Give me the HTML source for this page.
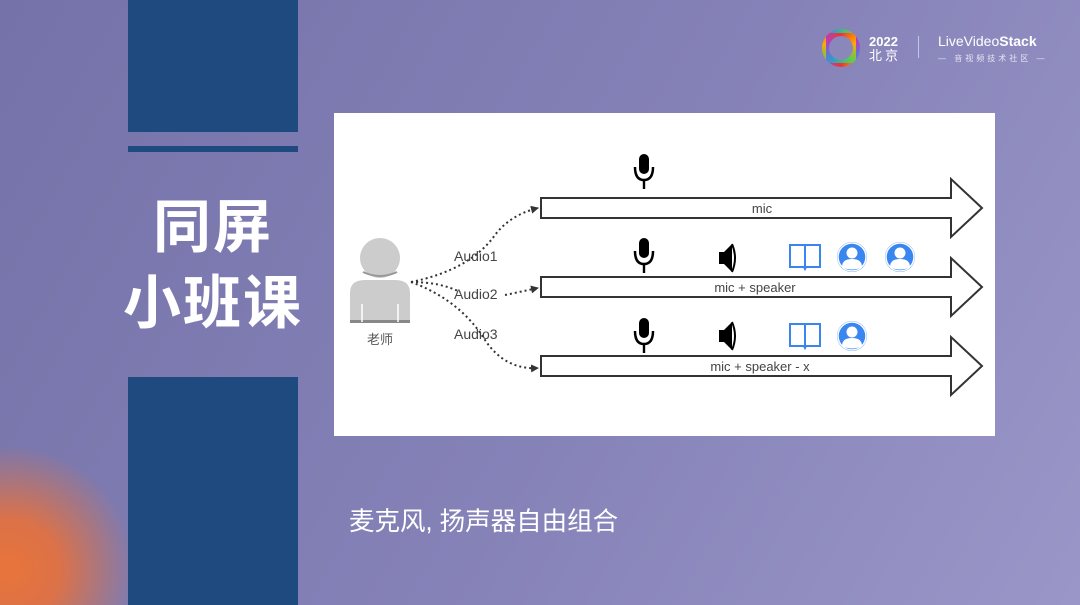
<!DOCTYPE html>
<html style="margin:0;width:1080px;height:605px;overflow:hidden;background:#7e7bb2"><head><meta charset="utf-8"><style>
body{margin:0;width:1080px;height:605px;overflow:hidden;position:relative;font-family:"Liberation Sans","Noto Sans CJK SC",sans-serif;
background:linear-gradient(120deg,#7472a8 0%,#8582b8 55%,#9a96c8 100%);}
.b{position:absolute;background:#1f4a7f;left:128px;width:170px}
.glow{position:absolute;left:0;top:425px;width:140px;height:180px;background:radial-gradient(circle at 10px 145px,#e8743a 0px,#dc7248 50px,rgba(160,110,160,0) 125px)}
</style></head><body>
<div class="glow"></div>
<div class="b" style="top:0;height:132px"></div>
<div class="b" style="top:146px;height:6px"></div>
<div class="b" style="top:377px;height:228px"></div>
<div style="position:absolute;left:118px;top:190px;width:190px;text-align:center;color:#fff;font-weight:bold;font-size:58px;line-height:76px;letter-spacing:2px">同屏<br>小班课</div>
<div style="position:absolute;left:349px;top:505px;color:#fff;font-size:25.5px;line-height:34px">麦克风, 扬声器自由组合</div>
<div style="position:absolute;left:822px;top:29px;width:30px;height:30px;border-radius:50%;border:4px solid transparent;background:conic-gradient(#e33,#fa0,#5c5,#39c,#a4c,#e33);"></div>
<div style="position:absolute;left:829px;top:36px;width:24px;height:24px;border-radius:50%;background:#8a87bb"></div>
<div style="position:absolute;left:869px;top:35px;color:#fff;font-size:13px;font-weight:bold;line-height:14px">2022<br><span style="font-weight:normal;letter-spacing:3px">北京</span></div>
<div style="position:absolute;left:918px;top:36px;width:1px;height:22px;background:#c8c6e4"></div>
<div style="position:absolute;left:938px;top:34px;color:#fff;font-size:14px;line-height:15px">LiveVideo<b>Stack</b><br><span style="font-size:8px;letter-spacing:3px;color:#e6e4f4">— 音视频技术社区 —</span></div>
<svg style="position:absolute;left:0;top:0;display:block" width="1080" height="605">
<defs><marker id="ah" markerWidth="8" markerHeight="8" refX="7" refY="4" orient="auto" markerUnits="userSpaceOnUse"><path d="M0,0 L8,4 L0,8 z" fill="#333"/></marker>
<g id="mic"><rect x="-5" y="0" width="10" height="20" rx="5" fill="#000"/><path d="M-9,13 Q-9,26 0,26 Q9,26 9,13" fill="none" stroke="#000" stroke-width="2.5"/><rect x="-1.2" y="26" width="2.4" height="9" fill="#000"/></g>
<g id="spk"><path d="M-8,-6 L-3,-6 L5,-14 L5,14 L-3,6 L-8,6 z" fill="#000"/><path d="M5,-14 Q11,0 5,14" fill="none" stroke="#000" stroke-width="2"/></g>
<g id="book"><path d="M-15,-11 L15,-11 L15,11 L1,11 L0,13 L-1,11 L-15,11 z M0,-11 L0,11" fill="none" stroke="#3a86f0" stroke-width="2"/></g>
<g id="usr"><circle r="15" fill="#3a86f0"/><circle cy="-4" r="5.5" fill="#fff"/><path d="M-10,10 Q-10,2 0,2 Q10,2 10,10 Q0,15 -10,10z" fill="#fff"/><circle r="14" fill="none" stroke="#fff" stroke-width="1.5"/></g>
</defs>
<rect x="334" y="113" width="661" height="323" fill="#fff"/>
<circle cx="380" cy="258" r="20" fill="#ccc"/>
<path d="M363,272 Q380,280 397,272" stroke="#999" stroke-width="2" fill="none"/>
<path d="M350,322 L350,293 Q350,280 365,280 L395,280 Q410,280 410,293 L410,322 z" fill="#ccc"/>
<rect x="350" y="320" width="60" height="3" fill="#888"/>
<line x1="362" y1="304" x2="362" y2="322" stroke="#fff" stroke-width="1.5"/><line x1="398" y1="304" x2="398" y2="322" stroke="#fff" stroke-width="1.5"/>
<text x="380" y="344" font-size="13" fill="#555" text-anchor="middle">老师</text>
<g stroke="#333" stroke-width="2" stroke-dasharray="2 3" fill="none" marker-end="url(#ah)">
<path d="M411,282 Q470,270 495,235 Q510,215 538,208"/>
<path d="M411,282 Q440,282 460,292 M505,295 L538,288"/>
<path d="M411,282 Q460,300 485,340 Q505,370 538,368"/>
</g>
<g font-size="14" fill="#444"><text x="454" y="261">Audio1</text><text x="454" y="299">Audio2</text><text x="454" y="339">Audio3</text></g>
<g fill="#fff" stroke="#333" stroke-width="2">
<path d="M541,198 L951,198 L951,179 L982,208 L951,237 L951,218 L541,218 z"/>
<path d="M541,277 L951,277 L951,258 L982,287 L951,316 L951,297 L541,297 z"/>
<path d="M541,356 L951,356 L951,337 L982,366 L951,395 L951,376 L541,376 z"/>
</g>
<g font-size="13" fill="#444" text-anchor="middle"><text x="762" y="213">mic</text><text x="755" y="292">mic + speaker</text><text x="760" y="371">mic + speaker - x</text></g>
<use href="#mic" x="644" y="154"/><use href="#mic" x="644" y="238"/><use href="#mic" x="644" y="318"/>
<use href="#spk" x="727" y="258"/><use href="#spk" x="727" y="336"/>
<use href="#book" x="805" y="256"/><use href="#book" x="805" y="335"/>
<use href="#usr" x="852" y="257"/><use href="#usr" x="900" y="257"/><use href="#usr" x="852" y="336"/>
</svg>
</body></html>
